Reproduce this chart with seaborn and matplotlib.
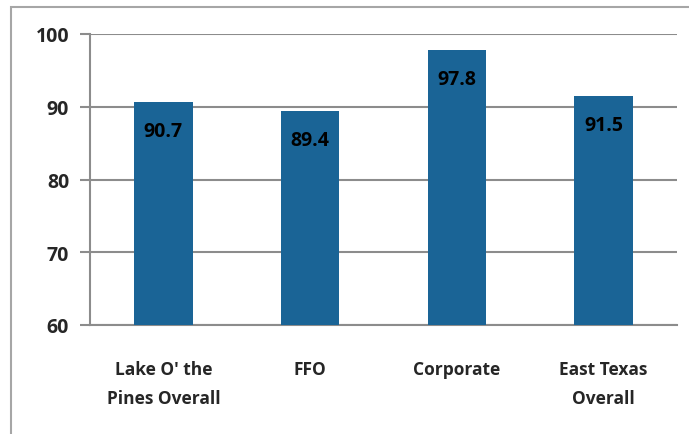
import matplotlib
matplotlib.use("Agg")
import matplotlib.pyplot as plt
import seaborn as sns
import pandas as pd
from matplotlib.patches import Rectangle

categories = ["Lake O' the\nPines Overall", "FFO", "Corporate", "East Texas\nOverall"]
values = [90.7, 89.4, 97.8, 91.5]

df = pd.DataFrame({"category": categories, "value": values})

sns.set_style("white")
plt.rcParams["font.family"] = ["Open Sans", "DejaVu Sans"]

fig = plt.figure(figsize=(6.89, 4.35), dpi=100)
ax = fig.add_axes([90 / 689, 1 - 326 / 435, 587 / 689, 291 / 435])

sns.barplot(data=df, x="category", y="value", color="#1a6496", saturation=1,
            width=0.4, linewidth=0, ax=ax, zorder=3)

ax.set_ylim(60, 100)
ax.set_yticks([60, 70, 80, 90, 100])
ax.set_xlim(-0.5, 3.5)
ax.yaxis.grid(True, color="#8c8c8c", linewidth=1.5, zorder=0)
ax.set_axisbelow(True)

for s in ["top", "right"]:
    ax.spines[s].set_visible(False)
for s in ["left", "bottom"]:
    ax.spines[s].set_color("#8c8c8c")
    ax.spines[s].set_linewidth(1.5)

ax.set_xticks([0, 1, 2, 3])
ax.set_xticklabels(categories, fontsize=12.5, fontweight="bold", linespacing=1.8)
ax.tick_params(axis="x", length=0, pad=25)
ax.set_xticks([-0.5, 0.5, 1.5, 2.5, 3.5], minor=True)
ax.tick_params(axis="x", which="minor", length=6, width=1.5, color="#8c8c8c", direction="out")
ax.tick_params(axis="y", length=7, width=1.5, color="#8c8c8c", labelsize=14, pad=8)
for lab in ax.get_yticklabels():
    lab.set_fontweight("bold")
ax.tick_params(axis="y", left=True)

for i, v in enumerate(values):
    ax.annotate(f"{v:.1f}", (i, v), xytext=(0, -21), textcoords="offset points",
                ha="center", va="center", fontsize=14, fontweight="bold", color="black")

ax.set_xlabel("")
ax.set_ylabel("")

fig.patches.append(Rectangle((11 / 689, -0.05), 1.2, 1 - 8 / 435 + 0.05,
                             transform=fig.transFigure, fill=False,
                             edgecolor="#a6a6a6", linewidth=1.5))

fig.savefig("out.png", dpi=100)
